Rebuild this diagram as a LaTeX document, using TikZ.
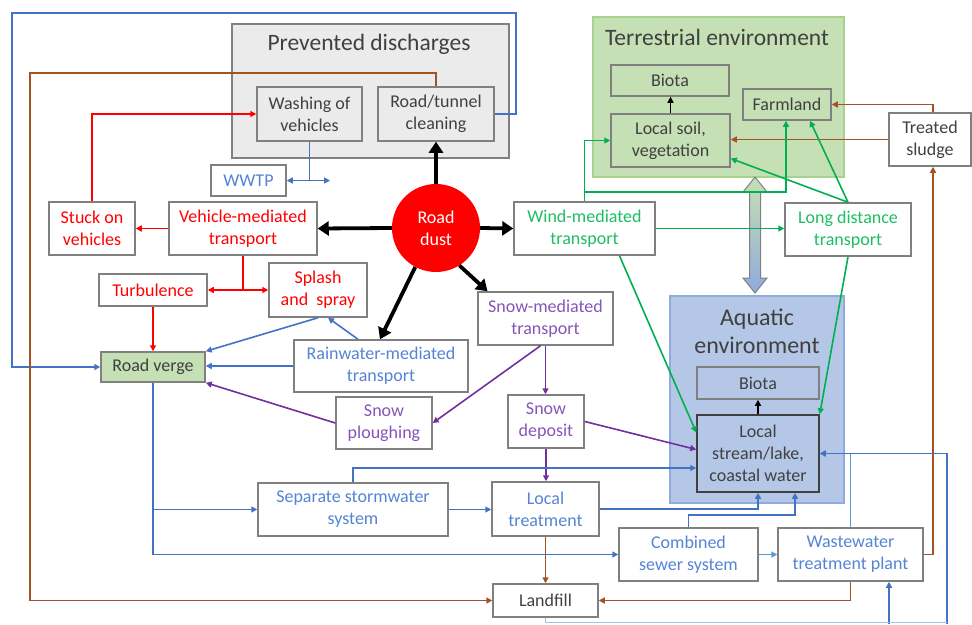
\documentclass[tikz,border=0pt]{standalone}
\usepackage{fontspec}
\setmainfont{Carlito}
\usetikzlibrary{arrows.meta,calc}
\definecolor{bxgray}{RGB}{128,128,128}
\definecolor{txtgray}{RGB}{64,64,64}
\definecolor{cred}{RGB}{255,0,0}
\definecolor{cblue}{RGB}{68,114,196}
\definecolor{cbluetxt}{RGB}{86,132,212}
\definecolor{cbluelt}{RGB}{91,155,213}
\definecolor{cgreen}{RGB}{0,176,80}
\definecolor{cgreentxt}{RGB}{30,190,100}
\definecolor{cpurple}{RGB}{112,48,160}
\definecolor{cpurpletxt}{RGB}{135,85,185}
\definecolor{cbrown}{RGB}{165,82,35}
\definecolor{terrfill}{RGB}{197,224,180}
\definecolor{terrline}{RGB}{169,209,142}
\definecolor{aqfill}{RGB}{180,199,231}
\definecolor{aqline}{RGB}{143,170,220}
\definecolor{prevfill}{RGB}{235,235,235}
\begin{document}
\begin{tikzpicture}[x=1pt,y=-1pt,
  sz/.style n args={2}{minimum width=#1pt,minimum height=#2pt},
  box/.style={draw=bxgray, line width=1.5pt, fill=white, inner sep=1pt, align=center,
    font=\fontsize{18}{22}\selectfont, text=txtgray},
  cont/.style={draw=bxgray, line width=1.5pt, inner sep=0pt},
  ttl/.style={font=\fontsize{23.5}{27}\selectfont, text=txtgray, align=center, inner sep=0pt},
  rtxt/.style={text=cred},
  btxt/.style={text=cbluetxt},
  gtxt/.style={text=cgreentxt},
  ptxt/.style={text=cpurpletxt},
  arr/.style={-{Triangle[length=6pt,width=6pt]}},
  con/.style={line width=1.6pt},
  rl/.style={con, draw=cred},
  bl/.style={con, draw=cblue},
  bll/.style={con, draw=cbluelt},
  gl/.style={con, draw=cgreen},
  pl/.style={con, draw=cpurple},
  brl/.style={con, draw=cbrown},
  thick arrow/.style={line width=3.8pt, -{Triangle[length=11pt,width=14pt]}},
]
\useasboundingbox (0,0) rectangle (972,624);
\fill[white] (0,0) rectangle (972,624);

% containers
\node[cont, fill=prevfill, sz={277}{134}] (prev) at (370.5,91) {};
\node[ttl] (prevt) at (369,44) {Prevented discharges};
\node[cont, draw=terrline, fill=terrfill, sz={251}{160}] (terr) at (718.5,97) {};
\node[ttl] (terrt) at (717,37) {Terrestrial environment};
\node[cont, draw=aqline, fill=aqfill, sz={174}{207}] (aqua) at (757,399.5) {};
\node[ttl, font=\fontsize{24}{28}\selectfont] (aquat) at (757,331) {Aquatic\\environment};

% big double arrow
\shade[top color=terrfill, bottom color=aqline, draw=bxgray, line width=1pt]
  (755,177) -- (767,192) -- (760.5,192) -- (760.5,278) -- (767,278) -- (755,293)
  -- (743,278) -- (749.5,278) -- (749.5,192) -- (743,192) -- cycle;

% boxes
\node[box, fill=prevfill, sz={105}{54}] (wash) at (309.5,114) {Washing of\\vehicles};
\node[box, fill=prevfill, sz={116}{54}] (clean) at (436,114) {Road/tunnel\\cleaning};
\node[box, btxt, sz={75}{31}] (wwtp) at (248.5,180.5) {WWTP};
\node[box, rtxt, sz={86}{53}] (stuck) at (92,228.5) {Stuck on\\vehicles};
\node[box, rtxt, sz={148}{53}] (vehicle) at (243,228.5) {Vehicle-mediated\\transport};
\node[box, rtxt, sz={108}{32}] (turb) at (153,290) {Turbulence};
\node[box, rtxt, sz={98}{54}] (splash) at (318,290) {Splash\\and\ \ spray};
\node[box, fill=terrfill, sz={104}{30}] (verge) at (153,367) {Road verge};
\node[box, btxt, sz={174}{52}] (rain) at (381,366) {Rainwater-mediated\\transport};
\node[circle, fill=cred, draw=none, minimum size=88pt, inner sep=0pt, align=center,
  text=white, font=\fontsize{18}{22}\selectfont] (dust) at (436,228) {Road\\dust};
\node[box, gtxt, sz={141}{53}] (wind) at (584.5,228.5) {Wind-mediated\\transport};
\node[box, ptxt, sz={135}{53}] (snowm) at (545.5,318.5) {Snow-mediated\\transport};
\node[box, ptxt, sz={96}{52}] (plough) at (384,423) {Snow\\ploughing};
\node[box, ptxt, sz={76}{53}] (deposit) at (546,421.5) {Snow\\deposit};
\node[box, fill=terrfill, sz={118}{31}] (tbiota) at (670,80.5) {Biota};
\node[box, fill=terrfill, sz={119}{53}] (soil) at (670.5,140.5) {Local soil,\\vegetation};
\node[box, fill=terrfill, sz={88}{31}] (farm) at (787,104.5) {Farmland};
\node[box, sz={82}{53}] (sludge) at (930,139.5) {Treated\\sludge};
\node[box, gtxt, sz={126}{53}] (longd) at (848,229.5) {Long distance\\transport};
\node[box, fill=aqfill, sz={122}{32}] (abiota) at (758,383) {Biota};
\node[box, fill=aqfill, draw=txtgray, sz={122}{77}] (stream) at (758,453.5) {Local\\stream/lake,\\coastal water};
\node[box, btxt, sz={190}{53}] (storm) at (353,509.5) {Separate stormwater\\system};
\node[box, btxt, sz={107}{54}] (ltreat) at (545.5,509) {Local\\treatment};
\node[box, btxt, sz={139}{53}] (comb) at (688.5,554.5) {Combined\\sewer system};
\node[box, btxt, sz={145}{53}] (wwtp2) at (850.5,554.5) {Wastewater\\treatment plant};
\node[box, sz={105}{33}] (landfill) at (545.5,600.5) {Landfill};

% free-end coordinates
\coordinate (wfree) at (330,180.5);
\coordinate (bo1) at (516,13);
\coordinate (bo2) at (12,13);
\coordinate (br1) at (30,73);
\coordinate (bb1) at (947,624);
\coordinate (bb2) at (889,624);
\coordinate (bb3) at (947,622.5);

% thick black arrows from road dust
\draw[thick arrow] (dust.north) -- (clean.south);
\draw[thick arrow] (dust.west) -- (vehicle.east);
\draw[thick arrow] (dust.east) -- (wind.west);
\draw[thick arrow] (dust.242) -- ([xshift=-1pt]rain.north);
\draw[thick arrow] (dust.-58) -- ([xshift=-58pt]snowm.north);

% red
\draw[rl, arr] (stuck.north) |- (wash.west);
\draw[rl, arr] (vehicle.west) -- (vehicle.west -| stuck.east);
\draw[rl] (vehicle.south) -- (vehicle.south |- turb.east);
\draw[rl, arr] (vehicle.south |- turb.east) -- (turb.east);
\draw[rl, arr] (vehicle.south |- splash.west) -- (splash.west);
\draw[rl, arr] (turb.south) -- (verge.north);

% blue top
\draw[bl] (wash.south) -- (wash.south |- wwtp.east);
\draw[bl, {Triangle[length=6pt,width=6pt]}-{Triangle[length=6pt,width=6pt]}] (wwtp.east) -- (wfree);
\draw[bl, arr] (clean.east) -| (bo1) -- (bo2) |- (verge.west);
\draw[bl, arr] (splash.south) -- (verge.north east);
\draw[bl, arr] ([xshift=-23pt]rain.north) -- ([xshift=10pt]splash.south);
\draw[bl, arr] (rain.west) -- (rain.west -| verge.east);

% brown
\draw[brl, arr] (clean.north) |- (br1) |- (landfill.west);
\draw[brl, arr] ([xshift=3pt]sludge.north) |- (farm.east);
\draw[brl, arr] (sludge.west) -- (sludge.west -| soil.east);
\draw[brl, arr] (wwtp2.east) -| ([xshift=3pt]sludge.south);
\draw[brl, arr] (ltreat.south) -- (landfill.north);
\draw[brl, arr] (wwtp2.south) |- (landfill.east);

% purple
\draw[pl, arr] (snowm.south) -- (snowm.south |- deposit.north);
\draw[pl, arr] ([xshift=-5pt]snowm.south) -- (plough.east);
\draw[pl, arr] (plough.west) -- (verge.south east);
\draw[pl, arr] (deposit.east) -- ([yshift=4pt]stream.west);
\draw[pl, arr] (deposit.south) -- (deposit.south |- ltreat.north);

% green
\draw[gl, arr] (wind.north) |- (soil.west);
\draw[gl, arr] ([yshift=9pt]wind.north) -| ([xshift=-1pt]farm.south);
\draw[gl, arr] (wind.east) -- (wind.east -| longd.west);
\draw[gl, arr] (longd.north) -- ([yshift=-18pt]soil.east);
\draw[gl, arr] (longd.north) -- ([xshift=23pt]farm.south);
\draw[gl, arr] ([xshift=35pt]wind.south) -- ([yshift=21pt]stream.west);
\draw[gl, arr] (longd.south) -- (stream.north east);

% black small arrows
\draw[con, arr, draw=black] (soil.north) -- (soil.north |- tbiota.south);
\draw[con, arr, draw=black] (stream.north) -- (abiota.south);

% blue bottom
\draw[bl, arr] (verge.south) |- (comb.west);
\draw[bl, arr] (verge.south |- storm.west) -- (storm.west);
\draw[bl, arr] (storm.east) -- (storm.east -| ltreat.west);
\draw[bl, arr] (storm.north) |- ([yshift=-14.5pt]stream.west);
\draw[bl, arr] (ltreat.east) -| (stream.south);
\draw[bl, arr] (comb.north) -- ++(0,-12) -| ([xshift=37pt]stream.south);
\draw[bll, arr] (comb.east) -- (wwtp2.west);
\draw[bll, arr] (wwtp2.north) |- (stream.east);
\draw[bl, arr] (bb1) |- (stream.east);
\draw[bl, arr] (bb2) -- (bb2 |- wwtp2.south);
\draw[cbluelt!60, line width=1pt] (landfill.south) |- (bb3);
\end{tikzpicture}
\end{document}
